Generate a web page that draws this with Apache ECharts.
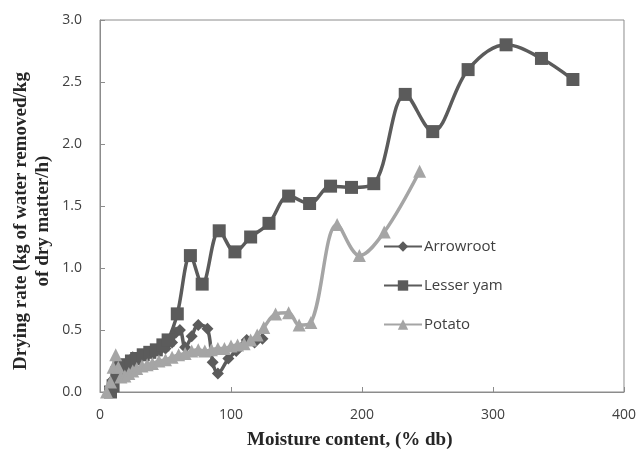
<!DOCTYPE html>
<html>
<head>
<meta charset="utf-8">
<script src="https://cdn.jsdelivr.net/npm/echarts@6/dist/echarts.min.js"></script>
<style>html,body{margin:0;padding:0;background:#fff}#c{width:639px;height:455px}</style>
</head>
<body>
<div id="c"></div>
<script>
var seriesNames = ["Arrowroot", "Lesser yam", "Potato"];
var arrowroot = [[8,0.02],[10,0.1],[12,0.2],[15,0.15],[18,0.22],[22,0.25],[25,0.28],[30,0.28],[35,0.3],[40,0.31],[45,0.33],[50,0.35],[55,0.4],[58,0.48],[61,0.5],[65,0.36],[70,0.45],[75,0.54],[82,0.51],[86,0.24],[90,0.15],[98,0.27],[104,0.33],[112,0.42],[118,0.40],[124,0.43]];
var lesserYam = [[8,0.0],[10,0.05],[13,0.15],[16,0.2],[20,0.22],[24,0.25],[28,0.27],[33,0.3],[38,0.32],[43,0.34],[48,0.38],[52,0.42],[59,0.63],[69,1.10],[78,0.87],[91,1.30],[103,1.13],[115,1.25],[129,1.36],[144,1.58],[160,1.52],[176,1.66],[192,1.65],[209,1.68],[233,2.40],[254,2.10],[281,2.60],[310,2.80],[337,2.69],[361,2.52]];
var potato = [[5,0.0],[8,0.08],[10,0.2],[12,0.3],[14,0.2],[16,0.12],[19,0.13],[22,0.15],[25,0.17],[28,0.19],[32,0.21],[36,0.22],[40,0.23],[45,0.25],[50,0.26],[55,0.28],[60,0.3],[65,0.31],[70,0.33],[75,0.34],[80,0.33],[85,0.34],[90,0.35],[95,0.35],[100,0.37],[105,0.38],[110,0.39],[115,0.42],[120,0.46],[125,0.52],[134,0.63],[144,0.64],[152,0.54],[161,0.56],[181,1.35],[198,1.10],[217,1.29],[244,1.78]];
var xTicks = [0, 100, 200, 300, 400];
var yTicks = [0, 0.5, 1.0, 1.5, 2.0, 2.5, 3.0];
var xTitle = "Moisture content, (% db)";
var yTitle = ["Drying rate (kg of water removed/kg", "of dry matter/h)"];

var chart = echarts.init(document.getElementById('c'));
var dark = '#5b5b5b', light = '#a5a5a5';
function mk(name, data, color, symbol, size) {
  return {
    name: name, type: 'line', data: data, smooth: 0.35,
    symbol: symbol, symbolSize: size, showSymbol: true,
    lineStyle: {color: color, width: 3.5},
    itemStyle: {color: color},
    animation: false
  };
}
chart.setOption({
  animation: false,
  grid: {left: 100, right: 15, top: 20, bottom: 63, show: true, borderColor: '#8c8c8c', borderWidth: 1},
  xAxis: {
    type: 'value', min: 0, max: 400, interval: 100,
    axisLine: {show: true, lineStyle: {color: '#8c8c8c'}},
    axisTick: {show: true, inside: true, length: 5, lineStyle: {color: '#8c8c8c'}},
    splitLine: {show: false},
    axisLabel: {color: '#404040', fontFamily: 'Open Sans', fontSize: 14, margin: 16}
  },
  yAxis: {
    type: 'value', min: 0, max: 3, interval: 0.5,
    axisLine: {show: true, lineStyle: {color: '#8c8c8c'}},
    axisTick: {show: true, inside: true, length: 5, lineStyle: {color: '#8c8c8c'}},
    splitLine: {show: false},
    axisLabel: {color: '#404040', fontFamily: 'Open Sans', fontSize: 14, margin: 18,
      formatter: function (v) { return v.toFixed(1); }}
  },
  legend: {
    orient: 'vertical', left: 378, top: 234, itemGap: 24, itemWidth: 38, itemHeight: 13,
    data: seriesNames,
    textStyle: {color: '#404040', fontFamily: 'Open Sans', fontSize: 15, padding: [0,0,0,-3]}
  },
  graphic: [
    {type: 'text', left: 247, top: 431, style: {text: xTitle, font: 'bold 19px "Liberation Serif"', fill: '#262626'}},
    {type: 'text', x: 21, y: 221, rotation: Math.PI / 2, style: {text: yTitle[0], font: 'bold 19px "Liberation Serif"', fill: '#262626', align: 'center', verticalAlign: 'middle'}},
    {type: 'text', x: 43, y: 221, rotation: Math.PI / 2, style: {text: yTitle[1], font: 'bold 19px "Liberation Serif"', fill: '#262626', align: 'center', verticalAlign: 'middle'}}
  ],
  series: [
    mk(seriesNames[0], arrowroot, dark, 'diamond', 12),
    mk(seriesNames[1], lesserYam, dark, 'rect', 13),
    mk(seriesNames[2], potato, light, 'triangle', 13)
  ]
});
</script>
</body>
</html>
